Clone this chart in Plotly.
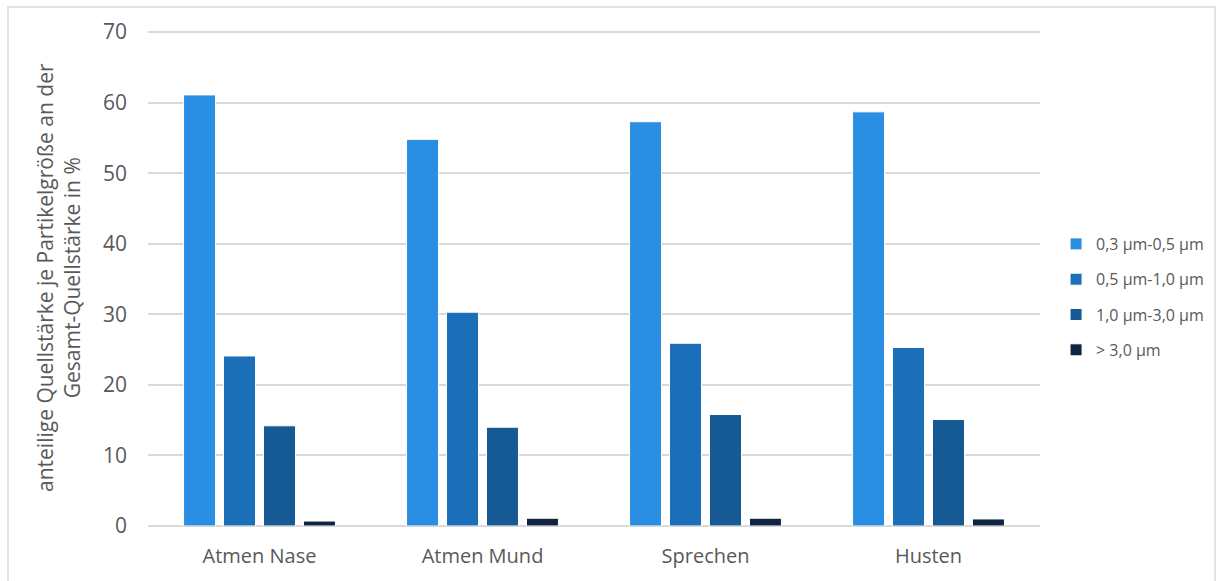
import plotly.graph_objects as go

categories = ["Atmen Nase", "Atmen Mund", "Sprechen", "Husten"]
series_names = ["0,3 µm-0,5 µm", "0,5 µm-1,0 µm", "1,0 µm-3,0 µm", "> 3,0 µm"]
v_03_05 = [61.1, 54.8, 57.3, 58.7]
v_05_10 = [24.1, 30.3, 25.9, 25.3]
v_10_30 = [14.2, 14.0, 15.8, 15.1]
v_gt_30 = [0.7, 1.1, 1.1, 1.0]
colors = ["#2A8FE2", "#1B6FB8", "#155A94", "#0E2441"]
y_ticks = [0, 10, 20, 30, 40, 50, 60, 70]

W, H = 1217, 581
L, R, T, B = 148, 177, 30, 55
PW, PH = W - L - R, H - T - B

fig = go.Figure()
for name, vals, col in zip(series_names, [v_03_05, v_05_10, v_10_30, v_gt_30], colors):
    fig.add_trace(go.Bar(
        x=categories, y=vals, name=name, legendgroup=name,
        marker=dict(color=col, line=dict(color="white", width=1)),
    ))

fig.update_layout(
    width=W, height=H,
    margin=dict(l=L, r=R, t=T, b=B, autoexpand=False),
    paper_bgcolor="white", plot_bgcolor="white",
    barmode="group", bargap=0.283, bargroupgap=0.2,
    font=dict(family="Open Sans, Noto Sans, sans-serif", color="#595959"),
    showlegend=True,
    legend=dict(x=1.018, y=1 - (297 - T) / PH, xanchor="left", yanchor="middle",
                font=dict(size=16, color="#595959"),
                itemwidth=30, tracegroupgap=11.5, traceorder="grouped"),
    xaxis=dict(showgrid=False, showline=False, ticks="", tickfont=dict(size=20),
               ticklabelstandoff=16),
    yaxis=dict(range=[0, 70.3], tickvals=y_ticks, showgrid=True, gridcolor="#D9D9D9",
               gridwidth=1.5, zeroline=True, zerolinecolor="#D9D9D9", zerolinewidth=1.5,
               showline=False, ticks="", tickfont=dict(size=21), ticklabelstandoff=20),
    annotations=[dict(
        text="anteilige Quellstärke je Partikelgröße an der<br>Gesamt-Quellstärke in %",
        xref="paper", yref="paper", x=(58 - L) / PW, y=1 - (278 - T) / PH,
        xanchor="center", yanchor="middle", textangle=-90, showarrow=False,
        font=dict(size=21, color="#595959"),
    )],
    shapes=[dict(type="rect", xref="paper", yref="paper",
                 x0=(8 - L) / PW, x1=(1215 - L) / PW,
                 y0=-(B + 20) / PH,
                 y1=1 + (T - 7) / PH,
                 line=dict(color="#D9D9D9", width=1.5), layer="below")],
)

fig.write_html("out.html")
